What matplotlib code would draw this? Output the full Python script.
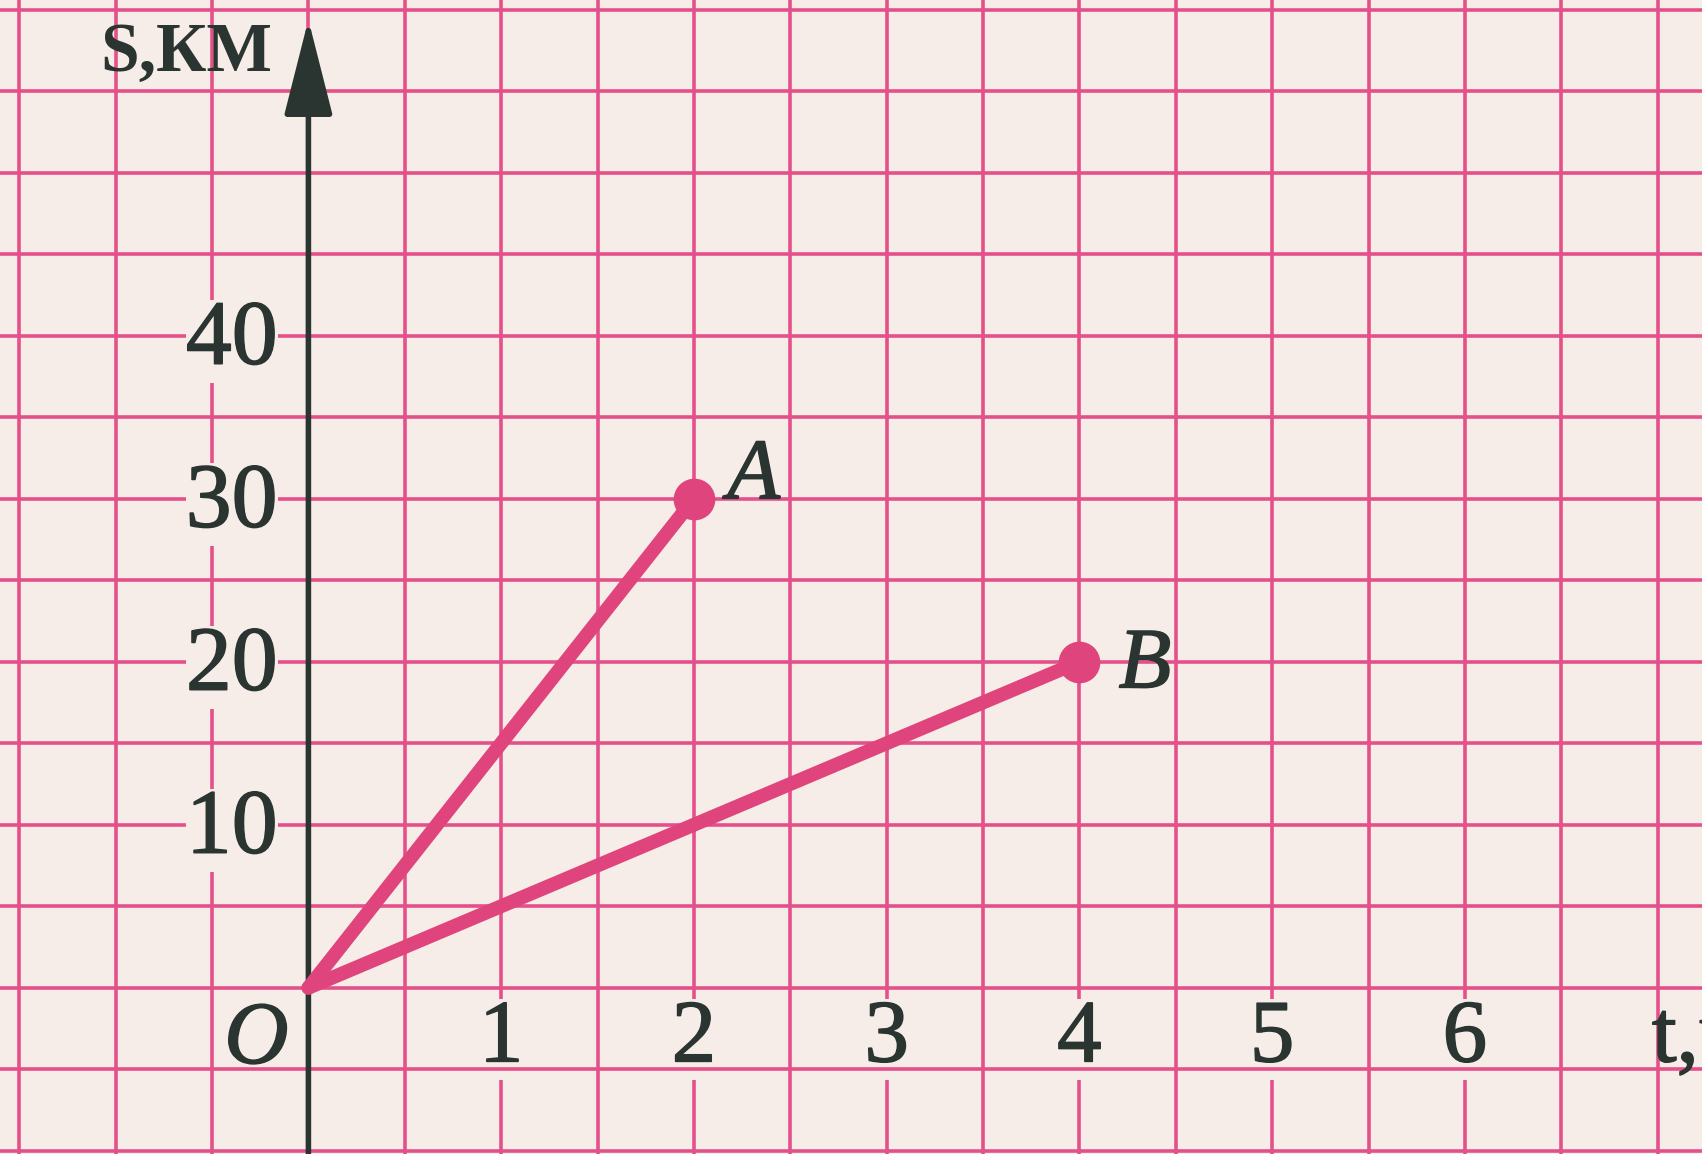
import numpy as np
import matplotlib.pyplot as plt
import matplotlib.patheffects as pe
from matplotlib import font_manager as fm

# данные графика: путь s (км) от времени t (ч)
t_a = [0, 2]
s_a = [0, 30]
t_b = [0, 4]
s_b = [0, 20]
point_names = ['A', 'B']
x_ticks = [1, 2, 3, 4, 5, 6]
y_ticks = [10, 20, 30, 40]

bg = '#f7ede8'
grid_col = '#e5508a'
line_col = '#e0447d'
ink = '#2a3430'
thick = [pe.withStroke(linewidth=1.1, foreground=ink)]


def serif_font(style, size):
    """Liberation Serif по имени файла, иначе по семейству"""
    name = {'normal': 'LiberationSerif-Regular', 'italic': 'LiberationSerif-Italic',
            'bold': 'LiberationSerif-Bold'}[style]
    found = [p for p in fm.findSystemFonts() if name + '.' in p]
    if found:
        return fm.FontProperties(fname=found[0], size=size)
    return fm.FontProperties(family='Liberation Serif', size=size,
                             style='italic' if style == 'italic' else 'normal',
                             weight='bold' if style == 'bold' else 'normal')


fig = plt.figure(figsize=(17.02, 11.54), dpi=100, facecolor=bg)
ax = fig.add_axes([0, 0, 1, 1], facecolor=bg)
ax.set_xlim(-1.60, 7.23)
ax.set_ylim(-10.2, 60.6)
ax.set_xticks([])
ax.set_yticks([])
for sp in ax.spines.values():
    sp.set_visible(False)

# миллиметровка: вертикальные линии под подписями оси t, горизонтальные над ними
for gx in np.arange(-1.5, 7.5, 0.5):
    ax.axvline(gx, color=grid_col, lw=2.6, zorder=0.5)
for gy in np.arange(-10, 65, 5):
    ax.axhline(gy, color=grid_col, lw=2.6, zorder=1.5)

# оси со стрелками
ax.annotate('', xy=(0, 59.4), xytext=(0, -10.2),
            arrowprops=dict(arrowstyle='-|>,head_length=1.5,head_width=0.38',
                            color=ink, lw=4, mutation_scale=40, shrinkA=0, shrinkB=0),
            zorder=3)
ax.annotate('', xy=(7.24, 0), xytext=(-1.60, 0),
            arrowprops=dict(arrowstyle='-|>,head_length=1.0,head_width=0.35',
                            color=ink, lw=4, mutation_scale=40, shrinkA=0, shrinkB=0),
            zorder=3)

# графики движения
ax.plot(t_a, s_a, color=line_col, lw=10, solid_capstyle='round', zorder=4)
ax.plot(t_b, s_b, color=line_col, lw=10, solid_capstyle='round', zorder=4)
ax.plot([t_a[-1], t_b[-1]], [s_a[-1], s_b[-1]], 'o', color=line_col, ms=29, zorder=5)

box = dict(facecolor=bg, edgecolor='none', pad=0)
for x in x_ticks:
    ax.text(x, -3.2, str(x), ha='center', va='center', fontproperties=serif_font('normal', 64),
            color=ink, bbox=box, zorder=1, path_effects=thick)
for y in y_ticks:
    ax.text(-0.16, y - 0.35, str(y), ha='right', va='center',
            fontproperties=serif_font('normal', 66),
            color=ink, bbox=box, zorder=2, path_effects=thick)

ax.text(-0.27, -3.3, 'O', ha='center', va='center', fontproperties=serif_font('italic', 64),
        color=ink, zorder=2, path_effects=thick)
ax.text(t_a[-1] + 0.31, s_a[-1] + 1.3, point_names[0], ha='center', va='center',
        fontproperties=serif_font('italic', 62), color=ink, zorder=2, path_effects=thick)
ax.text(t_b[-1] + 0.34, s_b[-1] - 0.3, point_names[1], ha='center', va='center',
        fontproperties=serif_font('italic', 62), color=ink, zorder=2, path_effects=thick)

ax.text(-0.19, 57.3, 'S,КМ', ha='right', va='center', fontproperties=serif_font('bold', 50),
        color=ink, zorder=2)
ax.text(6.97, -3.2, 't,ч', ha='left', va='center', fontproperties=serif_font('normal', 64),
        color=ink, zorder=2, path_effects=thick)

fig.savefig('out.png', dpi=100, facecolor=bg)
